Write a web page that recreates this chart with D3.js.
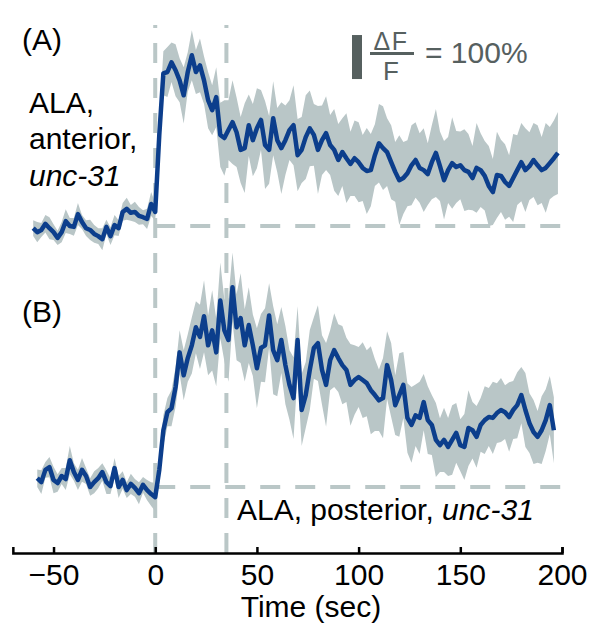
<!DOCTYPE html>
<html>
<head>
<meta charset="utf-8">
<script src="https://cdn.jsdelivr.net/npm/d3@7"></script>
<style>
  html, body { margin: 0; padding: 0; background: #fff; }
  svg { display: block; font-family: "Liberation Sans", Arial, Helvetica, sans-serif; }
</style>
</head>
<body>
<svg id="chart" width="600" height="637"></svg>
<script>
// ---- data (ΔF/F in %, sampled every 2 s) ----
const sampleStep = 2;
const startA = -60;
const startB = -58;
const xTicks = [-50, 0, 50, 100, 150, 200];
const stimMarks = [0, 35];
const scaleBarPct = [334, 434];

const meanA = [-5,-14,-9,5,-5,-14,-27,-14,11,0,-2,27,9,-5,-9,-18,-23,-30,-2,-23,2,-5,32,39,30,32,23,20,16,50,32,
207,347,350,372,354,331,297,350,388,350,365,331,286,263,293,207,200,218,236,213,173,177,229,195,222,241,184,173,245,195,
177,195,218,229,161,173,202,222,207,173,195,211,184,173,150,168,154,141,154,145,132,125,127,161,188,177,168,145,123,104,
109,120,138,150,132,127,118,145,166,136,104,127,143,134,138,127,123,109,132,127,114,91,77,116,114,100,91,109,127,145,
127,136,150,138,127,132,143,154,166];

const bandA = [18,23,16,20,25,18,16,23,27,18,20,25,16,18,23,20,18,25,16,20,23,18,20,25,18,23,20,16,23,27,20,
34,50,57,45,59,50,64,45,57,50,61,54,64,57,68,
73,86,68,95,79,75,102,70,82,91,68,100,77,84,73,104,79,68,91,82,75,95,86,70,100,79,84,68,93,82,77,102,73,86,91,75,98,82,70,89,95,77,84,68,102,82,75,91,86,79,
95,70,84,100,79,89,75,104,82,77,93,86,73,102,84,79,91,75,98,82,86,70,100,79,89,95,77,84,91,75,102,82,86,93];

const meanB = [20,11,39,45,16,9,25,18,61,34,16,39,25,0,11,20,34,11,2,43,0,16,-7,7,-2,-14,5,-7,-16,-23,
39,129,170,179,227,306,254,293,322,363,341,388,322,356,306,424,356,334,454,363,384,322,368,322,270,316,322,390,311,288,
334,277,232,202,334,175,209,266,316,327,266,232,288,311,293,277,266,232,243,250,243,236,220,209,197,202,277,243,186,209,
232,157,141,163,157,193,152,141,107,95,107,91,107,123,95,91,134,129,114,141,152,159,157,168,175,170,159,175,186,209,
175,145,125,114,129,152,186,129];

const bandB = [20,27,18,23,30,20,18,25,32,20,23,27,18,20,25,23,20,27,18,23,25,20,18,23,20,25,18,23,27,32,
27,34,32,41,45,50,57,54,64,59,
73,82,68,91,77,86,70,95,79,75,102,82,86,70,91,77,84,73,100,82,75,89,79,93,77,
82,75,91,70,86,79,95,68,84,77,89,73,93,79,68,86,75,100,82,70,91,77,84,68,95,75,79,86,70,82,
64,77,68,84,61,73,66,79,68,59,75,86,64,70,61,77,66,82,68,73,
61,79,66,75,64,84,68,73,59,77,70,66,75];

// ---- styles ----
const blue = "#0c3e8c";
const bandColor = "#b9c6c7";
const dashColor = "#bac7c7";
const barColor = "#56605f";

const svg = d3.select("#chart");

const x = d3.scaleLinear().domain([-70, 200]).range([12.85, 562]);
const yA = d3.scaleLinear().domain([0, 100]).range([226, 182]);
const yB = d3.scaleLinear().domain([0, 100]).range([487, 443]);
const axisY = 553;

function rows(start, mean, band) {
  return mean.map((m, i) => ({ t: start + i * sampleStep, m: m, w: band[i] }));
}
const dataA = rows(startA, meanA, bandA);
const dataB = rows(startB, meanB, bandB);

// dashed guide lines
const guides = svg.append("g")
  .attr("stroke", dashColor).attr("stroke-width", 4)
  .attr("stroke-dasharray", "20,15").attr("fill", "none");
stimMarks.forEach(s => {
  guides.append("line")
    .attr("x1", x(s)).attr("x2", x(s))
    .attr("y1", axisY).attr("y2", 25);
});
[yA, yB].forEach(y => {
  guides.append("line")
    .attr("x1", x(0)).attr("x2", x(200))
    .attr("y1", y(0)).attr("y2", y(0));
});

// traces
function drawTrace(data, y) {
  const area = d3.area()
    .x(d => x(d.t))
    .y0(d => y(d.m - d.w))
    .y1(d => y(d.m + d.w));
  const line = d3.line().x(d => x(d.t)).y(d => y(d.m));
  svg.append("path").datum(data).attr("d", area).attr("fill", bandColor);
  svg.append("path").datum(data).attr("d", line)
    .attr("fill", "none").attr("stroke", blue)
    .attr("stroke-width", 4.5).attr("stroke-linejoin", "round");
}
drawTrace(dataA, yA);
drawTrace(dataB, yB);

// axis
const axis = d3.axisBottom(x).tickValues(xTicks).tickSize(-6).tickSizeOuter(-6);
const gAxis = svg.append("g").attr("transform", `translate(0,${axisY})`).call(axis);
gAxis.select(".domain").attr("stroke", "#000").attr("stroke-width", 2.5);
gAxis.selectAll(".tick line").attr("stroke", "#000").attr("stroke-width", 2.5);
gAxis.selectAll(".tick text")
  .attr("y", 32).attr("dy", 0)
  .attr("font-size", 30)
  .attr("font-family", "Liberation Sans, Arial, sans-serif")
  .attr("fill", "#000");

svg.append("text").attr("x", 311).attr("y", 617)
  .attr("text-anchor", "middle").attr("font-size", 30).text("Time (sec)");

// panel labels
svg.append("text").attr("x", 22).attr("y", 50).attr("font-size", 30).text("(A)");
svg.append("text").attr("x", 22).attr("y", 322).attr("font-size", 30).text("(B)");

svg.append("text").attr("x", 29).attr("y", 113).attr("font-size", 30).text("ALA,");
svg.append("text").attr("x", 29).attr("y", 149).attr("font-size", 30).text("anterior,");
svg.append("text").attr("x", 29).attr("y", 186).attr("font-size", 30)
  .attr("font-style", "italic").text("unc-31");

const post = svg.append("text").attr("x", 237).attr("y", 520).attr("font-size", 30);
post.append("tspan").text("ALA, posterior, ");
post.append("tspan").attr("font-style", "italic").text("unc-31");

// scale bar
svg.append("rect")
  .attr("x", 352).attr("width", 10)
  .attr("y", yA(scaleBarPct[1]))
  .attr("height", yA(scaleBarPct[0]) - yA(scaleBarPct[1]))
  .attr("fill", barColor);
svg.append("text").attr("x", 391).attr("y", 50).attr("text-anchor", "middle")
  .attr("font-size", 25).attr("letter-spacing", 1.5).attr("fill", barColor).text("ΔF");
svg.append("line").attr("x1", 370).attr("x2", 414).attr("y1", 53.5).attr("y2", 53.5)
  .attr("stroke", barColor).attr("stroke-width", 3);
svg.append("text").attr("x", 391).attr("y", 80).attr("text-anchor", "middle")
  .attr("font-size", 26).attr("fill", barColor).text("F");
svg.append("text").attr("x", 425).attr("y", 63)
  .attr("font-size", 30).attr("fill", barColor).text("= 100%");
</script>
</body>
</html>
